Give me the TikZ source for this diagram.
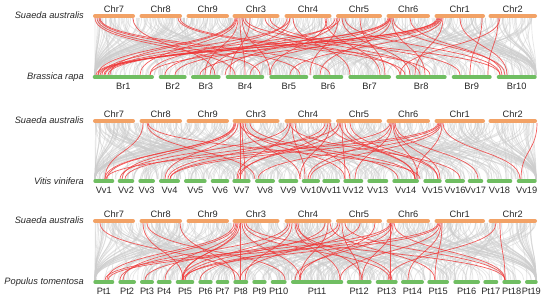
\documentclass[tikz,border=0pt]{standalone}
\usepackage{fontspec}
\setmainfont{Liberation Sans}
\definecolor{chrorange}{RGB}{242,162,102}
\definecolor{chrgreen}{RGB}{112,190,98}
\definecolor{linkgray}{RGB}{205,205,205}
\definecolor{linkred}{RGB}{240,55,55}
\definecolor{txt}{RGB}{40,40,40}
\tikzset{
  topbar/.style={line width=4bp, line cap=round, draw=chrorange},
  botbar/.style={line width=4bp, line cap=round, draw=chrgreen},
  graylink/.style={draw=linkgray, line width=0.7bp, opacity=0.5},
  redlink/.style={draw=linkred, line width=0.7bp, opacity=0.8},
  lab/.style={font=\fontsize{9.3}{10}\selectfont, text=txt, inner sep=0pt},
  sp/.style={font=\fontsize{9.3}{10}\selectfont\itshape, text=txt, inner sep=0pt, anchor=east}
}
\newcommand{\synpanel}[7]{%
  % #1 top y, #2 bottom y, #3 seed, #4 red pairs, #5 bottom bars list, #6 panel id, #7 bottom species
  \pgfmathsetseed{#3}
  \pgfmathsetmacro{\ymid}{(#1+#2)/2}
  \foreach \i in {1,...,450}{
    \pgfmathsetmacro{\ga}{95+441*rnd}
    \pgfmathsetmacro{\gb}{max(95,min(536,\ga+(rnd-0.5)*320))}
    \draw[graylink] (\ga,#1+2) .. controls (\ga,\ymid) and (\gb,\ymid) .. (\gb,#2-2);
  }
  \foreach \ra/\rb in {#4}{
    \draw[redlink] (\ra,#1+2) .. controls (\ra,\ymid) and (\rb,\ymid) .. (\rb,#2-2);
  }
  \foreach \n/\l/\r in {Chr7/93/135,Chr8/139.5/182,Chr9/186.5/229,Chr3/232.5/279.5,Chr4/284.5/331.5,Chr5/336/382,Chr6/386.5/430,Chr1/434.5/485,Chr2/488.5/537}{
    \draw[topbar] (\l+2,#1) -- (\r-2,#1);
    \node[lab] (#6\n) at ({(\l+\r)/2},#1-6.5) {\n};
  }
  \foreach \n/\l/\r in {#5}{
    \draw[botbar] (\l+2,#2) -- (\r-2,#2);
    \node[lab] (#6\n) at ({(\l+\r)/2},#2+9) {\n};
  }
  \node[sp] (#6top) at (84,#1-0.5) {Suaeda australis};
  \node[sp] (#6bot) at (84,#2) {#7};
}
\begin{document}
\begin{tikzpicture}[x=1bp,y=-1bp]
\useasboundingbox (0,0) rectangle (550,303);
\fill[white] (0,0) rectangle (550,303);
\synpanel{16}{77}{11}{95/235,97/260,99/300,100/330,133/215,178/405,180/430,235/98,237/140,238/205,240/245,242/270,243/400,245/500,265/420,270/460,287/150,290/210,293/350,325/380,327/270,335/165,337/225,338/310,342/410,345/500,388/105,389/175,390/250,391/320,392/425,393/505,438/96,439/100,440/150,441/200,442/290,443/415,482/470,498/488,500/400,460/507,410/502,360/385,250/230,290/102,340/104,390/108,236/110,437/98}{Br1/92.7/154,Br2/158.7/186.7,Br3/191/220.7,Br4/225.7/264.3,Br5/269.3/308.3,Br6/312.7/343.3,Br7/348.3/391,Br8/395.7/446.7,Br9/451.7/491.7,Br10/496.7/536.7}{a}{Brassica rapa}
\synpanel{121}{181}{23}{143/105,147/255,148/420,234/105,235/107,236/122,238/165,240/240,242/245,243/300,245/345,250/415,288/120,290/237,292/305,295/350,325/168,328/240,330/300,338/125,340/238,342/345,345/415,350/438,390/170,391/308,392/355,393/418,394/440,395/478,438/106,439/170,440/258,441/310,442/416,443/520,537/521,290/460,330/438,240/398,340/415}{Vv1/93.3/114.3,Vv2/117.7/134.3,Vv3/138.3/155,Vv4/159/180,Vv5/184/206.7,Vv6/210.7/229.3,Vv7/232.3/250.7,Vv8/255/275,Vv9/278.3/298.3,Vv10/301.7/320,Vv11/322.3/340,Vv12/343.3/363.3,Vv13/367.3/388.3,Vv14/392.3/419,Vv15/423.3/441.7,Vv16/445/465,Vv17/467.7/483.3,Vv18/486.7/512.3,Vv19/516.7/536.7}{b}{Vitis vinifera}
\synpanel{221}{282}{37}{100/240,143/183,147/285,180/235,234/107,236/123,237/165,238/183,240/240,242/300,244/390,246/505,288/120,290/182,292/245,295/340,298/362,325/185,328/300,330/435,338/145,340/240,342/360,345/505,375/300,390/105,390/390,391/185,392/295,393/362,394/505,438/108,439/183,440/340,441/408,442/435,496/388,500/505,296/392,360/200,240/182}{Pt1/93.3/114.3,Pt2/118.3/136,Pt3/140/154,Pt4/156.7/171.7,Pt5/175.7/194.3,Pt6/198.3/212.7,Pt7/215.7/229.3,Pt8/233.3/248.3,Pt9/252.3/266.7,Pt10/270.7/286.7,Pt11/291/343.3,Pt12/346.7/371.7,Pt13/375.7/397.7,Pt14/401/424,Pt15/427.3/449,Pt16/453.3/480,Pt17/483.3/498.3,Pt18/502.3/521,Pt19/525/537.7}{c}{Populus tomentosa}
\end{tikzpicture}
\end{document}
